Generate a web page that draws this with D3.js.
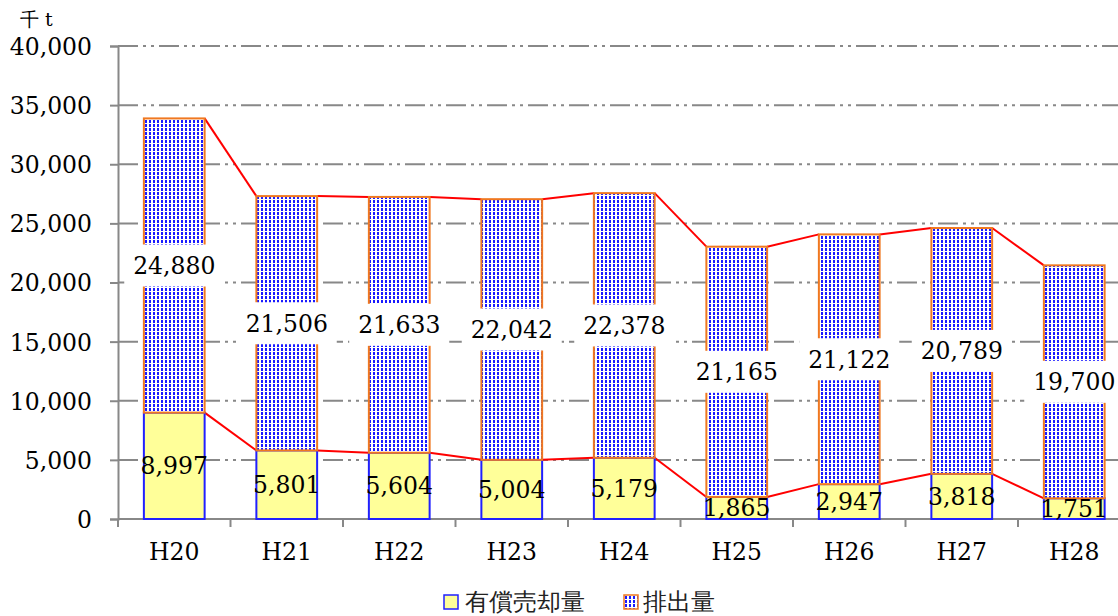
<!DOCTYPE html>
<html>
<head>
<meta charset="utf-8">
<script src="https://cdn.jsdelivr.net/npm/d3@7"></script>
<style>
  body { margin: 0; background: #fff; }
  svg text { font-family: "DejaVu Serif", serif; }
</style>
</head>
<body>
<svg id="chart" width="1118" height="616"></svg>
<script>
// chart data
var years = ["H20", "H21", "H22", "H23", "H24", "H25", "H26", "H27", "H28"];
var sold = [8997, 5801, 5604, 5004, 5179, 1865, 2947, 3818, 1751];      // 有償売却量
var emitted = [24880, 21506, 21633, 22042, 22378, 21165, 21122, 20789, 19700]; // 排出量
var yTicks = [0, 5000, 10000, 15000, 20000, 25000, 30000, 35000, 40000];
var legendNames = ["有償売却量", "排出量"];
var unitLabel = "千 t";

var svg = d3.select("#chart");

var x = d3.scaleBand().domain(years).range([118, 1130.5]).paddingInner(0.46).paddingOuter(0.23);
var step = x.step();
var y = d3.scaleLinear().domain([0, 40000]).range([519, 46]);
var fmt = d3.format(",");
var fs = 23.5;

// pattern for the 排出量 bars
var defs = svg.append("defs");
var pat = defs.append("pattern").attr("id", "dots")
  .attr("patternUnits", "userSpaceOnUse").attr("width", 4).attr("height", 4);
pat.append("rect").attr("width", 4).attr("height", 4).attr("fill", "#fff").attr("shape-rendering", "crispEdges");
pat.append("rect").attr("x", 1).attr("y", 0).attr("width", 2).attr("height", 3).attr("fill", "#1a1aff")
  .attr("shape-rendering", "crispEdges");

// gridlines
svg.append("g").selectAll("line")
  .data(yTicks.filter(function(d){ return d > 0; }))
  .enter().append("line")
  .attr("x1", 118).attr("x2", 1118)
  .attr("y1", function(d){ return y(d); }).attr("y2", function(d){ return y(d); })
  .attr("stroke", "#888").attr("stroke-width", 2)
  .attr("stroke-dasharray", "20,5,3,5,3,5");

// y axis
var yAxis = d3.axisLeft(y).tickValues(yTicks).tickFormat(fmt).tickSize(8).tickPadding(18);
var gy = svg.append("g").attr("transform", "translate(118,0)").call(yAxis);
gy.select(".domain").attr("stroke", "#888").attr("stroke-width", 2);
gy.selectAll(".tick line").attr("stroke", "#888").attr("stroke-width", 2);
gy.selectAll(".tick text").attr("font-family", "DejaVu Serif").attr("font-size", fs).attr("fill", "#000")
  .attr("x", -26).attr("dy", "0.36em").attr("text-anchor", "end");

// x axis
svg.append("line").attr("x1", 118).attr("x2", 1118).attr("y1", 519).attr("y2", 519)
  .attr("stroke", "#888").attr("stroke-width", 2);
svg.append("g").selectAll("line")
  .data(years)
  .enter().append("line")
  .attr("x1", function(d){ return x(d) - (step - x.bandwidth()) / 2; })
  .attr("x2", function(d){ return x(d) - (step - x.bandwidth()) / 2; })
  .attr("y1", 519).attr("y2", 527)
  .attr("stroke", "#888").attr("stroke-width", 2);
svg.append("g").selectAll("text")
  .data(years)
  .enter().append("text")
  .attr("x", function(d){ return x(d) + x.bandwidth() / 2; })
  .attr("y", 560)
  .attr("text-anchor", "middle").attr("font-size", fs).attr("fill", "#000")
  .text(function(d){ return d; });

// series lines (Excel style, bar edge to bar edge)
var lines = svg.append("g");
years.forEach(function(yr, i){
  if (i == years.length - 1) return;
  var nx = years[i + 1];
  lines.append("line")
    .attr("x1", x(yr) + x.bandwidth()).attr("x2", x(nx))
    .attr("y1", y(sold[i])).attr("y2", y(sold[i + 1]))
    .attr("stroke", "#ff0000").attr("stroke-width", 2);
  lines.append("line")
    .attr("x1", x(yr) + x.bandwidth()).attr("x2", x(nx))
    .attr("y1", y(sold[i] + emitted[i])).attr("y2", y(sold[i + 1] + emitted[i + 1]))
    .attr("stroke", "#ff0000").attr("stroke-width", 2);
});

// bars
var bars = svg.append("g");
bars.selectAll("rect.sold")
  .data(years).enter().append("rect").attr("class", "sold")
  .attr("x", function(d){ return x(d); })
  .attr("width", x.bandwidth())
  .attr("y", function(d, i){ return y(sold[i]); })
  .attr("height", function(d, i){ return y(0) - y(sold[i]); })
  .attr("fill", "#ffff99").attr("stroke", "#2020ff").attr("stroke-width", 2);
bars.selectAll("rect.emit")
  .data(years).enter().append("rect").attr("class", "emit")
  .attr("x", function(d){ return x(d); })
  .attr("width", x.bandwidth())
  .attr("y", function(d, i){ return y(sold[i] + emitted[i]); })
  .attr("height", function(d, i){ return y(sold[i]) - y(sold[i] + emitted[i]); })
  .attr("fill", "url(#dots)").attr("stroke", "#f07820").attr("stroke-width", 2);

// labels for 排出量 with white boxes
var lab = svg.append("g");
years.forEach(function(yr, i){
  var cx = x(yr) + x.bandwidth() / 2;
  var cy = y(sold[i] + emitted[i] / 2);
  lab.append("rect").attr("x", cx - 50).attr("y", cy - 21).attr("width", 100).attr("height", 42)
    .attr("fill", "#fff");
  lab.append("text").attr("x", cx).attr("y", cy).attr("dy", "0.36em")
    .attr("text-anchor", "middle").attr("font-size", fs).attr("fill", "#000")
    .text(fmt(emitted[i]));
  lab.append("text").attr("x", cx).attr("y", y(sold[i] / 2)).attr("dy", "0.36em")
    .attr("text-anchor", "middle").attr("font-size", fs).attr("fill", "#000")
    .text(fmt(sold[i]));
});

// unit label
svg.append("text").attr("x", 20).attr("y", 26)
  .attr("font-family", "DejaVu Serif, 'Noto Sans CJK JP'").attr("font-size", 19).attr("fill", "#000")
  .text(unitLabel);

// legend
var leg = svg.append("g");
leg.append("rect").attr("x", 444).attr("y", 595).attr("width", 14).attr("height", 14)
  .attr("fill", "#ffff99").attr("stroke", "#2020ff").attr("stroke-width", 1.5);
leg.append("text").attr("x", 465).attr("y", 610)
  .attr("font-family", "'Noto Sans CJK JP'").attr("font-size", 23.5).attr("fill", "#222")
  .text(legendNames[0]);
leg.append("rect").attr("x", 624).attr("y", 595).attr("width", 14).attr("height", 14)
  .attr("fill", "url(#dots)").attr("stroke", "#f07820").attr("stroke-width", 1.5);
leg.append("text").attr("x", 643).attr("y", 610)
  .attr("font-family", "'Noto Sans CJK JP'").attr("font-size", 23.5).attr("fill", "#222")
  .text(legendNames[1]);
</script>
</body>
</html>
